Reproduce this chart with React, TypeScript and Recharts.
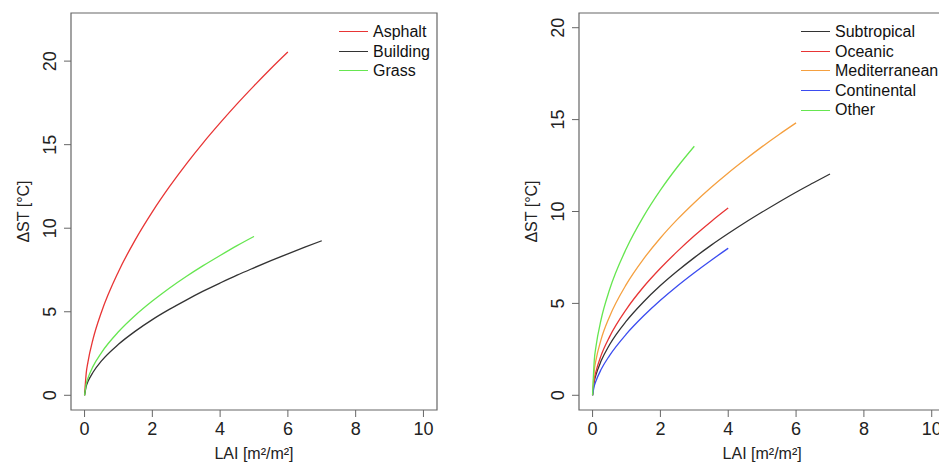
import React from 'react';
import { LineChart, Line, XAxis, YAxis, ReferenceArea, Legend } from 'recharts';

// LAI grid (m²/m²) shared by every curve; each series runs until its own last value
const laiGrid = [0, 0.05, 0.1, 0.25, 0.5, 1, 1.5, 2, 2.5, 3, 3.5, 4, 4.5, 5, 5.5, 6, 6.5, 7];

// left panel: surface type
const asphaltST = [0, 1.34, 1.99, 3.36, 4.99, 7.4, 9.32, 10.98, 12.47, 13.84, 15.11, 16.3, 17.44, 18.52, 19.56, 20.55];
const buildingST = [0, 0.55, 0.82, 1.38, 2.06, 3.05, 3.84, 4.53, 5.14, 5.7, 6.23, 6.72, 7.19, 7.63, 8.06, 8.47, 8.87, 9.25];
const grassST = [0, 0.69, 1.02, 1.73, 2.56, 3.8, 4.79, 5.64, 6.41, 7.11, 7.76, 8.37, 8.96, 9.51];

// right panel: climate
const subtropicalST = [0, 0.76, 1.11, 1.86, 2.75, 4.05, 5.08, 5.97, 6.76, 7.49, 8.17, 8.8, 9.4, 9.97, 10.52, 11.05, 11.55, 12.04];
const oceanicST = [0, 0.88, 1.29, 2.16, 3.18, 4.69, 5.89, 6.91, 7.83, 8.68, 9.46, 10.19];
const mediterraneanST = [0, 1.35, 1.91, 3.03, 4.28, 6.05, 7.41, 8.56, 9.57, 10.48, 11.32, 12.1, 12.83, 13.53, 14.19, 14.82];
const continentalST = [0, 0.51, 0.78, 1.4, 2.16, 3.34, 4.31, 5.17, 5.95, 6.67, 7.35, 8.0];
const otherST = [0, 1.9, 2.65, 4.11, 5.74, 8.0, 9.72, 11.16, 12.42, 13.55];

const xTicks = [0, 2, 4, 6, 8, 10];
const yTicks = [0, 5, 10, 15, 20];

const FONT = '"Liberation Sans", Arial, Helvetica, sans-serif';
const TEXT = '#222';
const FRAME = '#666';

const toPoints = (vals: number[]) => vals.map((v, i) => ({ lai: laiGrid[i], st: v }));

const YTick = ({ x, y, payload }: any) => (
  <text
    x={x}
    y={y}
    transform={`rotate(-90 ${x} ${y})`}
    textAnchor="middle"
    fontSize={18}
    fontFamily={FONT}
    fill={TEXT}
  >
    {payload.value}
  </text>
);

const XTitle = ({ viewBox }: any) => (
  <text
    x={viewBox.x + viewBox.width / 2}
    y={viewBox.y + 49}
    textAnchor="middle"
    fontSize={16}
    fontFamily={FONT}
    fill={TEXT}
  >
    LAI [m²/m²]
  </text>
);

const YTitle = ({ viewBox }: any) => {
  const x = viewBox.x + viewBox.width - 42;
  const y = viewBox.y + viewBox.height / 2;
  return (
    <text
      x={x}
      y={y}
      transform={`rotate(-90 ${x} ${y})`}
      textAnchor="middle"
      fontSize={16}
      fontFamily={FONT}
      fill={TEXT}
    >
      ΔST [°C]
    </text>
  );
};

// keeps the legend in drawing order (recharts sorts it by name otherwise)
const LegendBox = ({ payload, order }: any) => {
  const items = [...(payload || [])].sort(
    (a: any, b: any) => order.indexOf(a.value) - order.indexOf(b.value)
  );
  return (
    <div style={{ fontFamily: FONT, fontSize: 16, color: '#111' }}>
      {items.map((p: any) => (
        <div key={p.value} style={{ display: 'flex', alignItems: 'center', height: 19.6, lineHeight: '19.6px' }}>
          <div style={{ width: 29, borderTop: `1.3px solid ${p.color}`, marginRight: 5 }} />
          <span style={{ whiteSpace: 'nowrap' }}>{p.value}</span>
        </div>
      ))}
    </div>
  );
};

type Series = { name: string; color: string; values: number[] };

const Panel = ({ left, width, yAxisWidth, marginRight, yDomain, series, legendLeft }: {
  left: number;
  width: number;
  yAxisWidth: number;
  marginRight: number;
  yDomain: [number, number];
  series: Series[];
  legendLeft: number;
}) => (
  <div style={{ position: 'absolute', left, top: 0 }}>
    <LineChart width={width} height={463} margin={{ top: 13, right: marginRight, bottom: 0, left: 0 }}>
      <XAxis
        dataKey="lai"
        type="number"
        domain={[-0.4, 10.4]}
        allowDataOverflow
        ticks={xTicks}
        axisLine={false}
        tickLine={{ stroke: FRAME }}
        tickSize={7}
        tickMargin={5}
        height={53}
        tick={{ fontSize: 18, fontFamily: FONT, fill: TEXT }}
        label={XTitle}
      />
      <YAxis
        type="number"
        domain={yDomain}
        allowDataOverflow
        ticks={yTicks}
        axisLine={false}
        tickLine={{ stroke: FRAME }}
        tickSize={7}
        tickMargin={8}
        width={yAxisWidth}
        tick={<YTick />}
        label={YTitle}
      />
      <ReferenceArea
        x1={-0.4}
        x2={10.4}
        y1={yDomain[0]}
        y2={yDomain[1]}
        fill="none"
        stroke={FRAME}
        strokeWidth={1.2}
        ifOverflow="visible"
      />
      {series.map((s) => (
        <Line
          key={s.name}
          data={toPoints(s.values)}
          dataKey="st"
          name={s.name}
          type="monotone"
          stroke={s.color}
          strokeWidth={1.3}
          dot={false}
          activeDot={false}
          isAnimationActive={false}
        />
      ))}
      <Legend
        layout="horizontal"
        align="center"
        verticalAlign="middle"
        content={<LegendBox order={series.map((s) => s.name)} />}
        wrapperStyle={{ left: legendLeft, top: 22, width: 160, height: 'auto' }}
      />
    </LineChart>
  </div>
);

const surfaceSeries: Series[] = [
  { name: 'Asphalt', color: '#e83535', values: asphaltST },
  { name: 'Building', color: '#333333', values: buildingST },
  { name: 'Grass', color: '#66e650', values: grassST },
];

const climateSeries: Series[] = [
  { name: 'Subtropical', color: '#333333', values: subtropicalST },
  { name: 'Oceanic', color: '#e83535', values: oceanicST },
  { name: 'Mediterranean', color: '#f5a040', values: mediterraneanST },
  { name: 'Continental', color: '#3b4cf0', values: continentalST },
  { name: 'Other', color: '#66e650', values: otherST },
];

export default function App() {
  return (
    <div
      style={{
        position: 'absolute',
        left: 0,
        top: 0,
        width: 939,
        height: 463,
        overflow: 'hidden',
        background: '#fff',
      }}
    >
      <Panel
        left={0}
        width={470}
        yAxisWidth={71}
        marginRight={33}
        yDomain={[-0.88, 22.88]}
        series={surfaceSeries}
        legendLeft={339}
      />
      <Panel
        left={480}
        width={480}
        yAxisWidth={99}
        marginRight={14.7}
        yDomain={[-0.8, 20.8]}
        series={climateSeries}
        legendLeft={321}
      />
    </div>
  );
}
